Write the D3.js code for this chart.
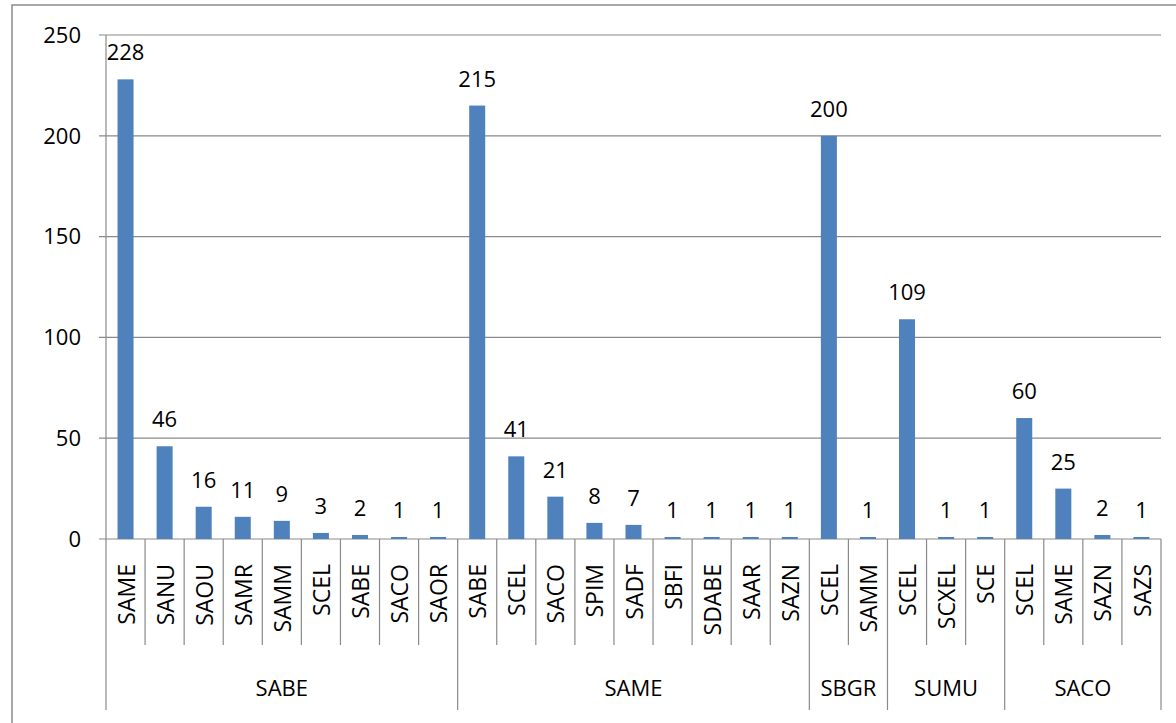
<!DOCTYPE html>
<html>
<head>
<meta charset="utf-8" />
<title>Bar chart</title>
<script src="https://d3js.org/d3.v7.min.js"></script>
<style>
  body { margin: 0; background: #fff; }
  text { font-family: "Open Sans", "Liberation Sans", sans-serif; fill: #000; }
</style>
</head>
<body>
<script>
// data
const groups = ["SABE", "SAME", "SBGR", "SUMU", "SACO"];
const categories = [
  ["SAME", "SANU", "SAOU", "SAMR", "SAMM", "SCEL", "SABE", "SACO", "SAOR"],
  ["SABE", "SCEL", "SACO", "SPIM", "SADF", "SBFI", "SDABE", "SAAR", "SAZN"],
  ["SCEL", "SAMM"],
  ["SCEL", "SCXEL", "SCE"],
  ["SCEL", "SAME", "SAZN", "SAZS"]
];
const values = [
  [228, 46, 16, 11, 9, 3, 2, 1, 1],
  [215, 41, 21, 8, 7, 1, 1, 1, 1],
  [200, 1],
  [109, 1, 1],
  [60, 25, 2, 1]
];
const yTicks = [0, 50, 100, 150, 200, 250];

const width = 1176, height = 723;
const margin = { top: 35, left: 106, right: 15, bottom: 184 };
const plotW = width - margin.left - margin.right;
const plotH = height - margin.top - margin.bottom;

// flatten into one row per bar
let rows = [];
let groupSpans = [];
groups.forEach(function(g, gi) {
  let start = rows.length;
  categories[gi].forEach(function(c, ci) {
    rows.push({ key: gi + "-" + ci, cat: c, group: g, value: values[gi][ci] });
  });
  groupSpans.push({ name: g, start: start, end: rows.length });
});

const svg = d3.select("body").append("svg")
  .attr("width", width)
  .attr("height", height);

// outer frame (cut off at right and bottom like the picture)
svg.append("rect")
  .attr("x", 12).attr("y", 5)
  .attr("width", width + 20).attr("height", height + 20)
  .attr("fill", "none")
  .attr("stroke", "#8c8c8c")
  .attr("stroke-width", 1.5);

const g = svg.append("g").attr("transform", `translate(${margin.left},${margin.top})`);

const x = d3.scaleBand()
  .domain(rows.map(d => d.key))
  .range([0, plotW])
  .padding(0);

const y = d3.scaleLinear()
  .domain([0, 250])
  .range([plotH, 0]);

// gridlines + y labels
g.selectAll(".grid")
  .data(yTicks)
  .join("line")
  .attr("class", "grid")
  .attr("x1", -7).attr("x2", plotW)
  .attr("y1", d => y(d)).attr("y2", d => y(d))
  .attr("stroke", "#8a8a8a")
  .attr("stroke-width", 1.2);

g.selectAll(".ylab")
  .data(yTicks)
  .join("text")
  .attr("class", "ylab")
  .attr("x", -25)
  .attr("y", d => y(d))
  .attr("dy", "0.35em")
  .attr("text-anchor", "end")
  .style("font-size", "22px")
  .text(d => d);

// left axis line, running down through the label area
g.append("line")
  .attr("x1", 0).attr("x2", 0)
  .attr("y1", 0).attr("y2", plotH + 171)
  .attr("stroke", "#8a8a8a")
  .attr("stroke-width", 1.2);

// bars
const barW = x.bandwidth() * 0.41;
g.selectAll(".bar")
  .data(rows)
  .join("rect")
  .attr("class", "bar")
  .attr("x", d => x(d.key) + x.bandwidth() / 2 - barW / 2)
  .attr("y", d => y(d.value))
  .attr("width", barW)
  .attr("height", d => y(0) - y(d.value))
  .attr("fill", "#4f81bd");

// value labels
g.selectAll(".vlab")
  .data(rows)
  .join("text")
  .attr("class", "vlab")
  .attr("x", d => x(d.key) + x.bandwidth() / 2)
  .attr("y", d => y(d.value) - 19)
  .attr("text-anchor", "middle")
  .style("font-size", "22px")
  .text(d => d.value);

// category ticks
const groupEdges = new Set(groupSpans.map(s => s.start).concat(groupSpans.map(s => s.end)));
const edges = d3.range(1, rows.length + 1);
g.selectAll(".ctick")
  .data(edges.filter(i => !groupEdges.has(i)))
  .join("line")
  .attr("class", "ctick")
  .attr("x1", i => i * x.step()).attr("x2", i => i * x.step())
  .attr("y1", plotH).attr("y2", plotH + 106)
  .attr("stroke", "#8a8a8a")
  .attr("stroke-width", 1.2);

g.selectAll(".gtick")
  .data(groupSpans)
  .join("line")
  .attr("class", "gtick")
  .attr("x1", s => s.end * x.step()).attr("x2", s => s.end * x.step())
  .attr("y1", plotH).attr("y2", plotH + 171)
  .attr("stroke", "#8a8a8a")
  .attr("stroke-width", 1.2);

// category labels
g.selectAll(".clab")
  .data(rows)
  .join("text")
  .attr("class", "clab")
  .attr("transform", d => `translate(${x(d.key) + x.bandwidth() / 2 + 1},${plotH + 25}) rotate(-90)`)
  .attr("text-anchor", "end")
  .attr("dy", "0.35em")
  .style("font-size", "23px")
  .text(d => d.cat);

// group labels
g.selectAll(".glab")
  .data(groupSpans)
  .join("text")
  .attr("class", "glab")
  .attr("x", s => (s.start + s.end) / 2 * x.step())
  .attr("y", plotH + 157)
  .attr("text-anchor", "middle")
  .style("font-size", "22px")
  .text(s => s.name);
</script>
</body>
</html>
